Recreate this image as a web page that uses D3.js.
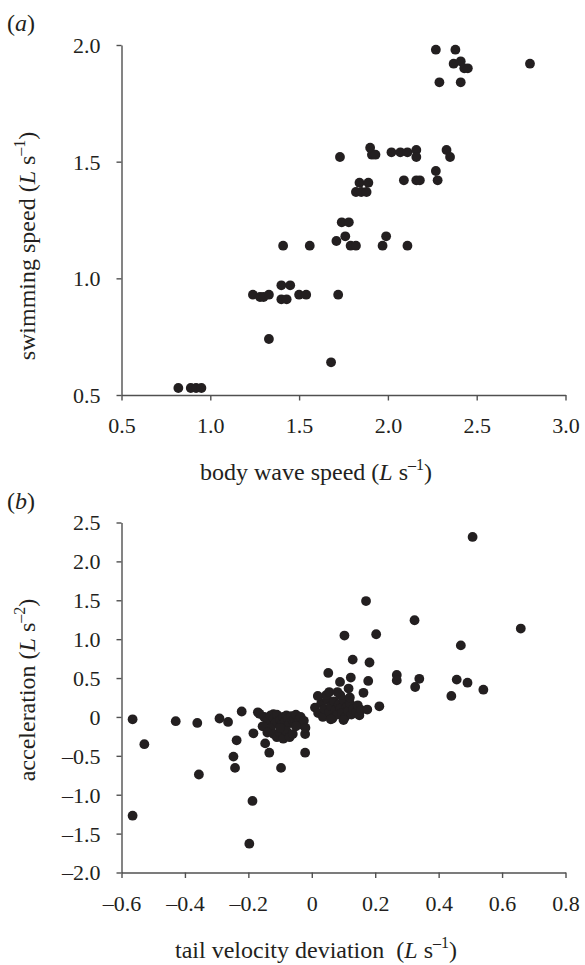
<!DOCTYPE html>
<html>
<head>
<meta charset="utf-8">
<script src="https://cdn.jsdelivr.net/npm/d3@7"></script>
<style>
  body { margin: 0; background: #fff; }
  svg text { font-family: "Liberation Serif", "Times New Roman", serif; fill: #231f20; }
</style>
</head>
<body>
<div id="chart"></div>
<script>
// panel (a): body wave speed vs swimming speed (L s-1)
const waveSwim = [
  [0.82, 0.53], [0.89, 0.53], [0.92, 0.53], [0.95, 0.53],
  [1.24, 0.93], [1.28, 0.92], [1.30, 0.92], [1.33, 0.93], [1.33, 0.74],
  [1.40, 0.97], [1.45, 0.97], [1.40, 0.91], [1.43, 0.91], [1.41, 1.14],
  [1.50, 0.93], [1.54, 0.93], [1.56, 1.14], [1.68, 0.64], [1.72, 0.93],
  [1.71, 1.16], [1.73, 1.52], [1.74, 1.24], [1.78, 1.24], [1.76, 1.18],
  [1.79, 1.14], [1.82, 1.14], [1.82, 1.37], [1.85, 1.37], [1.88, 1.37],
  [1.84, 1.41], [1.89, 1.41], [1.90, 1.56], [1.91, 1.53], [1.93, 1.53],
  [1.97, 1.14], [1.99, 1.18], [2.02, 1.54], [2.07, 1.54], [2.11, 1.54],
  [2.09, 1.42], [2.11, 1.14], [2.16, 1.55], [2.16, 1.52], [2.16, 1.42],
  [2.18, 1.42], [2.27, 1.46], [2.28, 1.42], [2.27, 1.98], [2.29, 1.84],
  [2.33, 1.55], [2.35, 1.52], [2.38, 1.98], [2.37, 1.92], [2.41, 1.93],
  [2.43, 1.90], [2.45, 1.90], [2.41, 1.84], [2.80, 1.92]
];

// panel (b): tail velocity deviation vs acceleration
const tailAccel = [
  [-0.565, -0.03], [-0.528, -0.35], [-0.565, -1.27], [-0.429, -0.055],
  [-0.361, -0.077], [-0.356, -0.74], [-0.291, -0.02], [-0.264, -0.064],
  [-0.221, 0.07], [-0.237, -0.30], [-0.247, -0.51], [-0.242, -0.655],
  [-0.187, -1.08], [-0.197, -1.63], [-0.170, 0.06], [-0.184, -0.21],
  [-0.147, -0.34], [-0.134, -0.46], [-0.097, -0.655], [-0.021, -0.46],
  [-0.021, -0.22], [-0.121, 0.035],
  [-0.165, 0.04], [-0.15, 0.0], [-0.14, -0.05], [-0.13, 0.02], [-0.12, -0.02],
  [-0.115, -0.08], [-0.11, 0.03], [-0.10, -0.04], [-0.095, -0.10], [-0.09, 0.0],
  [-0.085, -0.06], [-0.08, 0.02], [-0.075, -0.03], [-0.07, -0.08], [-0.065, 0.01],
  [-0.06, -0.05], [-0.055, -0.02], [-0.05, 0.03], [-0.045, -0.07], [-0.04, -0.03],
  [-0.035, 0.0], [-0.03, -0.10], [-0.025, -0.05], [-0.02, -0.14], [-0.13, -0.15],
  [-0.12, -0.22], [-0.11, -0.26], [-0.10, -0.20], [-0.09, -0.28], [-0.08, -0.18],
  [-0.07, -0.26], [-0.06, -0.22], [-0.155, -0.12], [-0.14, -0.20], [-0.05, -0.12],
  [-0.10, -0.14],
  [0.01, 0.12], [0.02, 0.05], [0.03, 0.18], [0.035, 0.0], [0.04, 0.10],
  [0.05, 0.22], [0.055, 0.06], [0.06, 0.14], [0.065, -0.02], [0.07, 0.20],
  [0.075, 0.09], [0.08, 0.03], [0.085, 0.16], [0.09, 0.11], [0.095, 0.05],
  [0.10, 0.22], [0.105, 0.0], [0.11, 0.13], [0.115, 0.08], [0.12, 0.18],
  [0.125, 0.03], [0.13, 0.10], [0.14, 0.06], [0.145, 0.15], [0.15, 0.02],
  [0.155, 0.09], [0.045, 0.28], [0.09, 0.28], [0.12, 0.25], [0.06, -0.03],
  [0.10, -0.04], [0.019, 0.27], [0.055, 0.32], [0.081, 0.32],
  [0.052, 0.566], [0.089, 0.45], [0.123, 0.506], [0.116, 0.365], [0.178, 0.463],
  [0.163, 0.31], [0.213, 0.137], [0.175, 0.095], [0.268, 0.54], [0.268, 0.47],
  [0.129, 0.737], [0.182, 0.70], [0.171, 1.49], [0.324, 1.243], [0.103, 1.046],
  [0.203, 1.063], [0.659, 1.136], [0.470, 0.92], [0.339, 0.49], [0.326, 0.385],
  [0.457, 0.48], [0.491, 0.44], [0.541, 0.35], [0.44, 0.27], [0.507, 2.314]
];

const aXTicks = [0.5, 1.0, 1.5, 2.0, 2.5, 3.0];
const aYTicks = [0.5, 1.0, 1.5, 2.0];
const bXTicks = [-0.6, -0.4, -0.2, 0, 0.2, 0.4, 0.6, 0.8];
const bYTicks = [-2.0, -1.5, -1.0, -0.5, 0, 0.5, 1.0, 1.5, 2.0, 2.5];

const width = 585, height = 965;
const dotColor = "#231f20", axisColor = "#505050";
const fontSize = 22, labelSize = 24;

const svg = d3.select("#chart")
    .append("svg")
    .attr("width", width)
    .attr("height", height);

const fmtA = d3.format(".1f");
const fmtB = function(v) {
    if (Math.abs(v) < 1e-9) return "0";
    return (v < 0 ? "\u2013" : "") + d3.format(".1f")(Math.abs(v));
};

function styleAxis(g) {
    g.select(".domain").attr("stroke", axisColor).attr("stroke-width", 1.4);
    g.selectAll(".tick line").attr("stroke", axisColor).attr("stroke-width", 1.4);
    g.selectAll(".tick text")
        .attr("font-size", fontSize)
        .attr("fill", "#231f20");
    g.attr("font-size", null).attr("font-family", null);
}

function panel(opts) {
    const x = d3.scaleLinear().domain(opts.xDomain).range([121.5, 565.5]);
    const y = d3.scaleLinear().domain(opts.yDomain).range([opts.bottom, opts.top]);

    svg.append("g")
        .attr("transform", `translate(0, ${opts.bottom})`)
        .call(d3.axisBottom(x).tickValues(opts.xTicks).tickFormat(opts.fmt)
            .tickSize(5.5).tickSizeOuter(0).tickPadding(17))
        .call(styleAxis);

    svg.append("g")
        .attr("transform", "translate(121.5, 0)")
        .call(d3.axisLeft(y).tickValues(opts.yTicks).tickFormat(opts.fmt)
            .tickSize(5).tickSizeOuter(0).tickPadding(16))
        .call(styleAxis)
        .selectAll(".tick text").attr("dy", "0.34em");

    svg.append("g")
        .selectAll("circle")
        .data(opts.data)
        .join("circle")
        .attr("cx", d => x(d[0]))
        .attr("cy", d => y(d[1]))
        .attr("r", 4.9)
        .attr("fill", dotColor);
}

panel({ data: waveSwim, xDomain: [0.5, 3.0], yDomain: [0.5, 2.0],
        xTicks: aXTicks, yTicks: aYTicks, fmt: fmtA, top: 45, bottom: 395 });
panel({ data: tailAccel, xDomain: [-0.6, 0.8], yDomain: [-2.0, 2.5],
        xTicks: bXTicks, yTicks: bYTicks, fmt: fmtB, top: 522.5, bottom: 872.5 });

// panel letters
function letter(xp, yp, ch) {
    const t = svg.append("text").attr("x", xp).attr("y", yp).attr("font-size", labelSize);
    t.append("tspan").text("(");
    t.append("tspan").attr("font-style", "italic").text(ch);
    t.append("tspan").text(")");
}
letter(7, 31, "a");
letter(7, 509, "b");

// axis label with italic L and superscript exponent
function unitLabel(t, before, exp) {
    t.append("tspan").text(before + "(");
    t.append("tspan").attr("font-style", "italic").text("L");
    t.append("tspan").text(" s");
    t.append("tspan").attr("font-size", 16).attr("dy", -10).text("\u2013" + exp);
    t.append("tspan").attr("dy", 10).text(")");
}

unitLabel(svg.append("text").attr("x", 316).attr("y", 480)
    .attr("font-size", labelSize).attr("text-anchor", "middle"),
    "body wave speed ", "1");

unitLabel(svg.append("text").attr("x", 316).attr("y", 958)
    .attr("font-size", labelSize).attr("text-anchor", "middle")
    .attr("xml:space", "preserve"),
    "tail velocity deviation \u00a0", "1");

unitLabel(svg.append("text")
    .attr("transform", "translate(35, 246) rotate(-90)")
    .attr("font-size", labelSize).attr("text-anchor", "middle"),
    "swimming speed ", "1");

unitLabel(svg.append("text")
    .attr("transform", "translate(35, 690) rotate(-90)")
    .attr("font-size", labelSize).attr("text-anchor", "middle"),
    "acceleration ", "2");
</script>
</body>
</html>
